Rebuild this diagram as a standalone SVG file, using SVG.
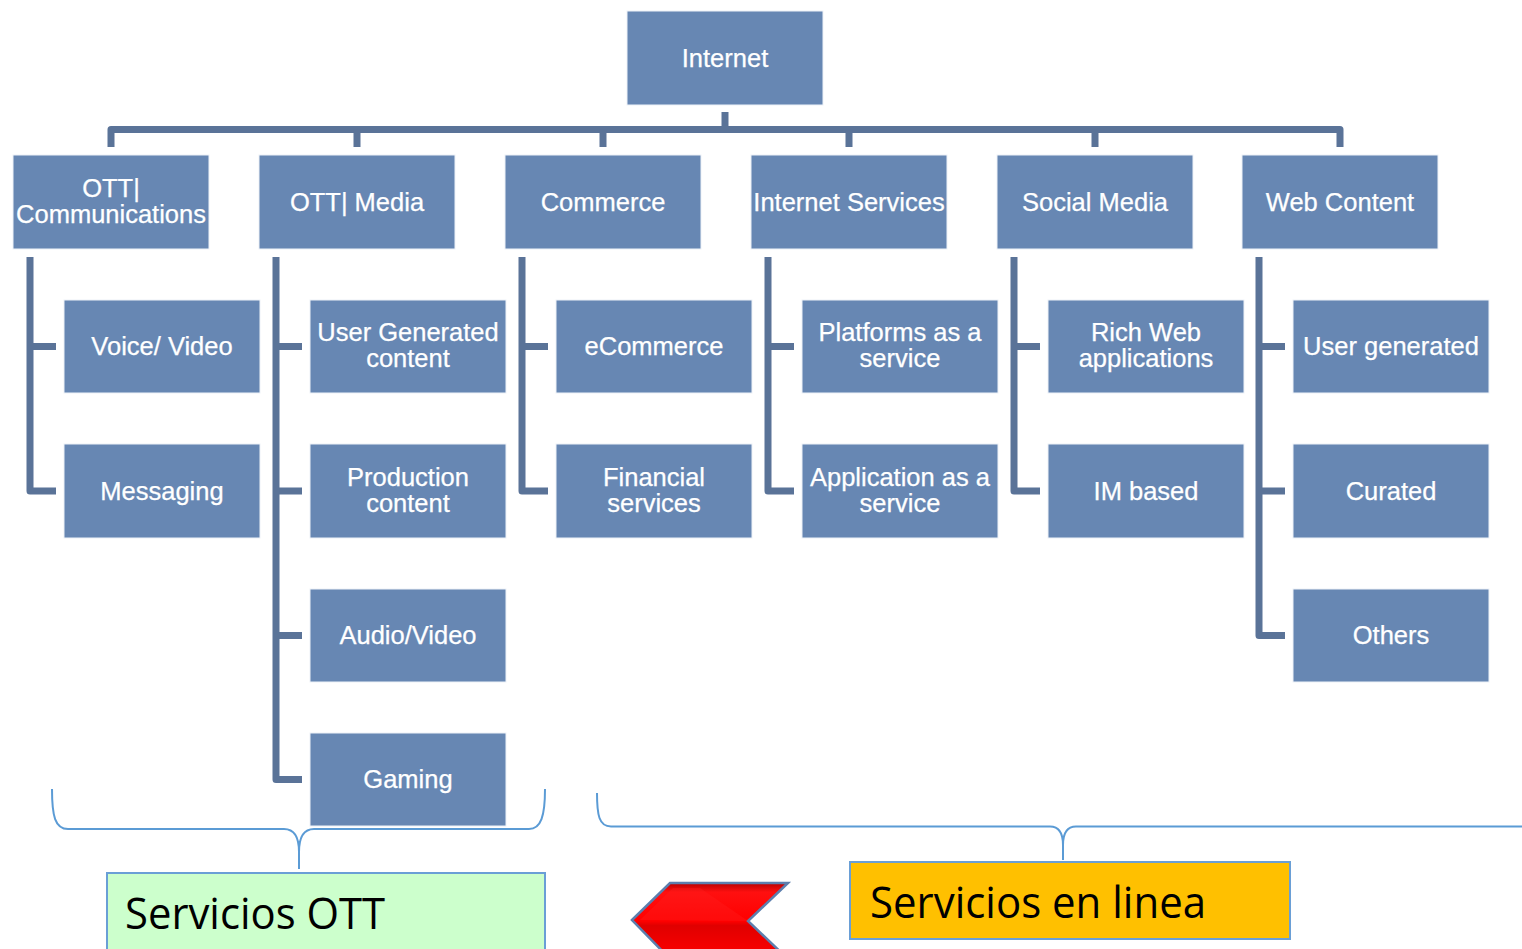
<svg xmlns="http://www.w3.org/2000/svg" width="1522" height="949" viewBox="0 0 1522 949">
  <defs>
    <style>
      .box { fill: #6787B3; stroke: #EEF2F8; stroke-width: 1; }
      .lbl { fill: #FFFFFF; font-family: "Liberation Sans", Arial, sans-serif; font-size: 25.5px; text-anchor: middle; stroke: #FFFFFF; stroke-width: 0.25; }
      .conn { fill: none; stroke: #5A7398; stroke-width: 7; stroke-linejoin: round; }
      .brace { fill: none; stroke: #5B9BD5; stroke-width: 2; }
      .big { fill: #000000; font-family: "Open Sans", "Noto Sans", sans-serif; font-size: 44px; }
    </style>
    <linearGradient id="redFill" x1="0" y1="0" x2="0" y2="1">
      <stop offset="0" stop-color="#B80000"/>
      <stop offset="0.12" stop-color="#FF1010"/>
      <stop offset="0.5" stop-color="#FF0000"/>
      <stop offset="0.56" stop-color="#E00000"/>
      <stop offset="1" stop-color="#FF0000"/>
    </linearGradient>
  </defs>

  <!-- connectors -->
  <g id="connectors">
    <path class="conn" d="M725,112 V129.5"/>
    <path class="conn" d="M111,147 V129.5 H1340 V147"/>
    <path class="conn" d="M357,129.5 V147 M603,129.5 V147 M849,129.5 V147 M1095,129.5 V147"/>
    <!-- OTT| Communications -->
    <path class="conn" d="M30,257 V491 H56 M30,346.5 H56"/>
    <!-- OTT| Media -->
    <path class="conn" d="M276,257 V779.5 H302 M276,346.5 H302 M276,491 H302 M276,635.5 H302"/>
    <!-- Commerce -->
    <path class="conn" d="M522,257 V491 H548 M522,346.5 H548"/>
    <!-- Internet Services -->
    <path class="conn" d="M768,257 V491 H794 M768,346.5 H794"/>
    <!-- Social Media -->
    <path class="conn" d="M1014,257 V491 H1040 M1014,346.5 H1040"/>
    <!-- Web Content -->
    <path class="conn" d="M1259,257 V635.5 H1285 M1259,346.5 H1285 M1259,491 H1285"/>
  </g>

  <!-- root -->
  <g id="internet">
    <rect class="box" x="627" y="11" width="196" height="94"/>
    <text class="lbl" x="725" y="67">Internet</text>
  </g>

  <!-- categories -->
  <g id="ott-communications">
    <rect class="box" x="13" y="155" width="196" height="94"/>
    <text class="lbl" x="111" y="197">OTT|</text>
    <text class="lbl" x="111" y="223">Communications</text>
  </g>
  <g id="ott-media">
    <rect class="box" x="259" y="155" width="196" height="94"/>
    <text class="lbl" x="357" y="211">OTT| Media</text>
  </g>
  <g id="commerce">
    <rect class="box" x="505" y="155" width="196" height="94"/>
    <text class="lbl" x="603" y="211">Commerce</text>
  </g>
  <g id="internet-services">
    <rect class="box" x="751" y="155" width="196" height="94"/>
    <text class="lbl" x="849" y="211">Internet Services</text>
  </g>
  <g id="social-media">
    <rect class="box" x="997" y="155" width="196" height="94"/>
    <text class="lbl" x="1095" y="211">Social Media</text>
  </g>
  <g id="web-content">
    <rect class="box" x="1242" y="155" width="196" height="94"/>
    <text class="lbl" x="1340" y="211">Web Content</text>
  </g>

  <!-- OTT| Communications children -->
  <g id="voice-video">
    <rect class="box" x="64" y="300" width="196" height="93"/>
    <text class="lbl" x="162" y="355">Voice/ Video</text>
  </g>
  <g id="messaging">
    <rect class="box" x="64" y="444" width="196" height="94"/>
    <text class="lbl" x="162" y="500">Messaging</text>
  </g>

  <!-- OTT| Media children -->
  <g id="user-generated-content">
    <rect class="box" x="310" y="300" width="196" height="93"/>
    <text class="lbl" x="408" y="341">User Generated</text>
    <text class="lbl" x="408" y="367">content</text>
  </g>
  <g id="production-content">
    <rect class="box" x="310" y="444" width="196" height="94"/>
    <text class="lbl" x="408" y="486">Production</text>
    <text class="lbl" x="408" y="512">content</text>
  </g>
  <g id="audio-video">
    <rect class="box" x="310" y="589" width="196" height="93"/>
    <text class="lbl" x="408" y="644">Audio/Video</text>
  </g>
  <g id="gaming">
    <rect class="box" x="310" y="733" width="196" height="93"/>
    <text class="lbl" x="408" y="788">Gaming</text>
  </g>

  <!-- Commerce children -->
  <g id="ecommerce">
    <rect class="box" x="556" y="300" width="196" height="93"/>
    <text class="lbl" x="654" y="355">eCommerce</text>
  </g>
  <g id="financial-services">
    <rect class="box" x="556" y="444" width="196" height="94"/>
    <text class="lbl" x="654" y="486">Financial</text>
    <text class="lbl" x="654" y="512">services</text>
  </g>

  <!-- Internet Services children -->
  <g id="platforms-as-a-service">
    <rect class="box" x="802" y="300" width="196" height="93"/>
    <text class="lbl" x="900" y="341">Platforms as a</text>
    <text class="lbl" x="900" y="367">service</text>
  </g>
  <g id="application-as-a-service">
    <rect class="box" x="802" y="444" width="196" height="94"/>
    <text class="lbl" x="900" y="486">Application as a</text>
    <text class="lbl" x="900" y="512">service</text>
  </g>

  <!-- Social Media children -->
  <g id="rich-web-applications">
    <rect class="box" x="1048" y="300" width="196" height="93"/>
    <text class="lbl" x="1146" y="341">Rich Web</text>
    <text class="lbl" x="1146" y="367">applications</text>
  </g>
  <g id="im-based">
    <rect class="box" x="1048" y="444" width="196" height="94"/>
    <text class="lbl" x="1146" y="500">IM based</text>
  </g>

  <!-- Web Content children -->
  <g id="user-generated">
    <rect class="box" x="1293" y="300" width="196" height="93"/>
    <text class="lbl" x="1391" y="355">User generated</text>
  </g>
  <g id="curated">
    <rect class="box" x="1293" y="444" width="196" height="94"/>
    <text class="lbl" x="1391" y="500">Curated</text>
  </g>
  <g id="others">
    <rect class="box" x="1293" y="589" width="196" height="93"/>
    <text class="lbl" x="1391" y="644">Others</text>
  </g>

  <!-- grouping braces -->
  <g id="braces">
    <path class="brace" d="M52,789 C52,816 55,829 68,829 L284,829 C295,829 299,838 299,852 L299,869 M299,852 C299,838 303,829 314,829 L529,829 C541,829 545,816 545,789"/>
    <path class="brace" d="M597,793 C597,815 599,826.5 611,826.5 L1050,826.5 C1059,826.5 1063,834 1063,845 L1063,860 M1063,845 C1063,834 1067,826.5 1076,826.5 L1522,826.5"/>
  </g>

  <!-- summary labels -->
  <g id="servicios-ott">
    <rect x="107" y="873" width="438" height="90" fill="#CCFFCC" stroke="#6A9FD6" stroke-width="2"/>
    <text class="big" x="125" y="929" textLength="260" lengthAdjust="spacingAndGlyphs">Servicios OTT</text>
  </g>
  <g id="servicios-en-linea">
    <rect x="850" y="862" width="440" height="77" fill="#FFC000" stroke="#6A9FD6" stroke-width="2"/>
    <text class="big" x="870" y="918" textLength="336" lengthAdjust="spacingAndGlyphs">Servicios en linea</text>
  </g>

  <!-- left-pointing chevron arrow -->
  <g id="arrow">
    <path d="M632,920 L670,883 L788,883 L748,921 L788,959 L670,959 Z" fill="url(#redFill)" stroke="#5C7FAE" stroke-width="2.5" stroke-linejoin="miter"/>
    <path d="M640,920 L673,888 L700,888 L748,921 Z" fill="#FF2020" opacity="0.35"/>
  </g>
</svg>
